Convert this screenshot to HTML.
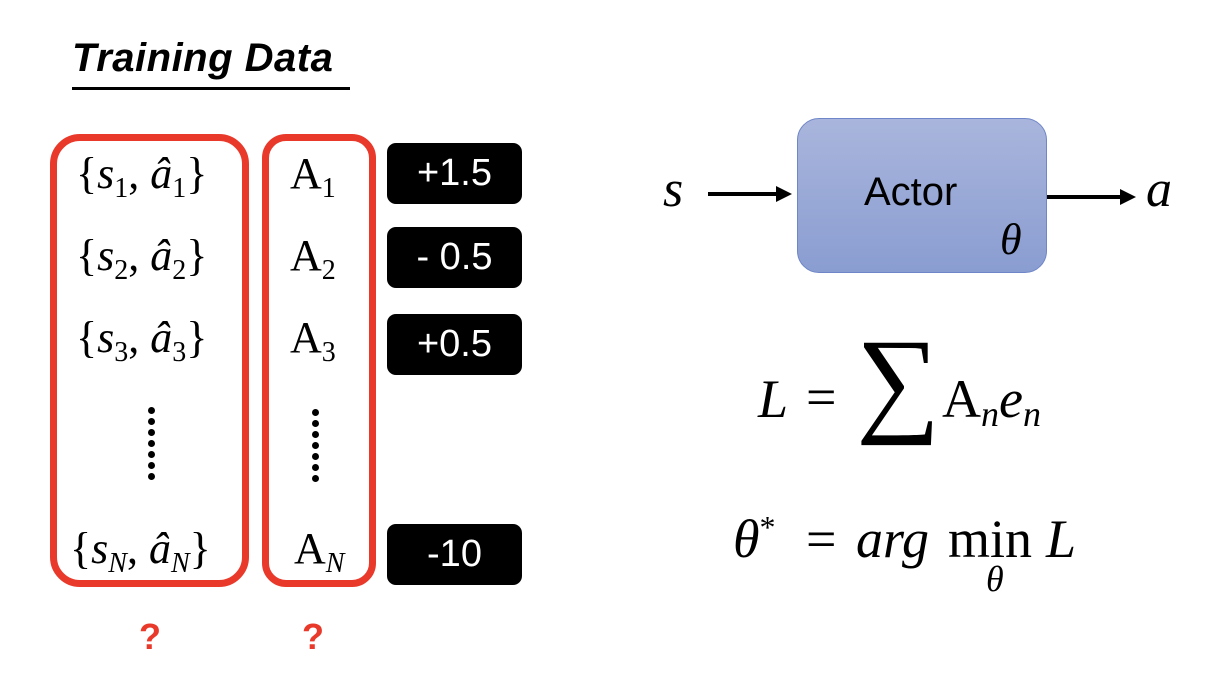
<!DOCTYPE html>
<html><head><meta charset="utf-8"><style>
body{margin:0;width:1230px;height:696px;background:#fff;position:relative;overflow:hidden;font-family:"Liberation Sans",sans-serif}
.a{position:absolute;white-space:nowrap}
.m{font-family:"Liberation Serif",serif;font-size:44px;color:#000}
.i{font-style:italic}
sub{font-size:28px;vertical-align:-9px}
.rb{position:absolute;border:7px solid #e8392a;border-radius:30px;box-sizing:border-box}
.bb{position:absolute;background:#000;color:#fff;border-radius:9px;width:135px;height:61px;font-size:38px;text-align:center;line-height:61px}
.dots{position:absolute;width:8px}
.dots i{display:block;width:7px;height:7px;background:#000;border-radius:50%;margin-bottom:4px}
</style></head><body>
<div class="a" style="left:72px;top:36px;font-size:40px;font-weight:bold;font-style:italic;letter-spacing:0.5px">Training Data</div>
<div class="a" style="left:72px;top:87px;width:278px;height:3px;background:#000"></div>

<div class="rb" style="left:50px;top:134px;width:199px;height:453px"></div>
<div class="rb" style="left:262px;top:134px;width:114px;height:453px;border-radius:24px"></div>

<div class="a m" style="left:76px;top:148px">{<span class="i">s</span><sub>1</sub>, <span class="i">â</span><sub>1</sub>}</div>
<div class="a m" style="left:76px;top:230px">{<span class="i">s</span><sub>2</sub>, <span class="i">â</span><sub>2</sub>}</div>
<div class="a m" style="left:76px;top:312px">{<span class="i">s</span><sub>3</sub>, <span class="i">â</span><sub>3</sub>}</div>
<div class="a m" style="left:70px;top:523px">{<span class="i">s<sub>N</sub></span>, <span class="i">â<sub>N</sub></span>}</div>
<div class="dots" style="left:148px;top:407px"><i></i><i></i><i></i><i></i><i></i><i></i><i></i></div>

<div class="a m" style="left:290px;top:148px">A<sub>1</sub></div>
<div class="a m" style="left:290px;top:230px">A<sub>2</sub></div>
<div class="a m" style="left:290px;top:312px">A<sub>3</sub></div>
<div class="a m" style="left:294px;top:523px">A<sub class="i">N</sub></div>
<div class="dots" style="left:312px;top:409px"><i></i><i></i><i></i><i></i><i></i><i></i><i></i></div>

<div class="bb" style="left:387px;top:143px">+1.5</div>
<div class="bb" style="left:387px;top:227px">- 0.5</div>
<div class="bb" style="left:387px;top:314px">+0.5</div>
<div class="bb" style="left:387px;top:524px">-10</div>

<div class="a" style="left:139px;top:616px;color:#e8392a;font-size:36px;font-weight:bold">?</div>
<div class="a" style="left:302px;top:616px;color:#e8392a;font-size:36px;font-weight:bold">?</div>

<div class="a" style="left:797px;top:118px;width:250px;height:155px;border:1px solid #6f86c8;box-sizing:border-box;border-radius:22px;background:linear-gradient(#a9b5dc,#8a9dd1)"></div>
<div class="a" style="left:864px;top:170px;font-size:40px">Actor</div>
<div class="a m i" style="left:1000px;top:214px;font-size:44px">θ</div>
<div class="a m i" style="left:663px;top:160px;font-size:52px">s</div>
<div class="a m i" style="left:1146px;top:160px;font-size:52px">a</div>
<svg class="a" style="left:0;top:0" width="1230" height="696">
<line x1="708" y1="194" x2="778" y2="194" stroke="#000" stroke-width="4"/>
<polygon points="776,186 792,194 776,202" fill="#000"/>
<line x1="1047" y1="197" x2="1122" y2="197" stroke="#000" stroke-width="4"/>
<polygon points="1120,189 1136,197 1120,205" fill="#000"/>
</svg>

<div class="a m i" style="left:758px;top:368px;font-size:54px">L</div>
<div class="a m" style="left:806px;top:366px;font-size:54px">=</div>
<div class="a m" style="left:856px;top:322px;font-size:118px;line-height:1">∑</div>
<div class="a m" style="left:942px;top:368px;font-size:54px">A<sub class="i" style="font-size:36px">n</sub><span class="i">e</span><sub class="i" style="font-size:36px">n</sub></div>

<div class="a m i" style="left:733px;top:508px;font-size:54px">θ<sup style="font-size:32px;font-style:normal">*</sup></div>
<div class="a m" style="left:806px;top:508px;font-size:54px">=</div>
<div class="a m i" style="left:856px;top:508px;font-size:54px">arg</div>
<div class="a m" style="left:948px;top:508px;font-size:54px">min</div>
<div class="a m i" style="left:986px;top:558px;font-size:36px">θ</div>
<div class="a m i" style="left:1046px;top:508px;font-size:54px">L</div>
</body></html>
